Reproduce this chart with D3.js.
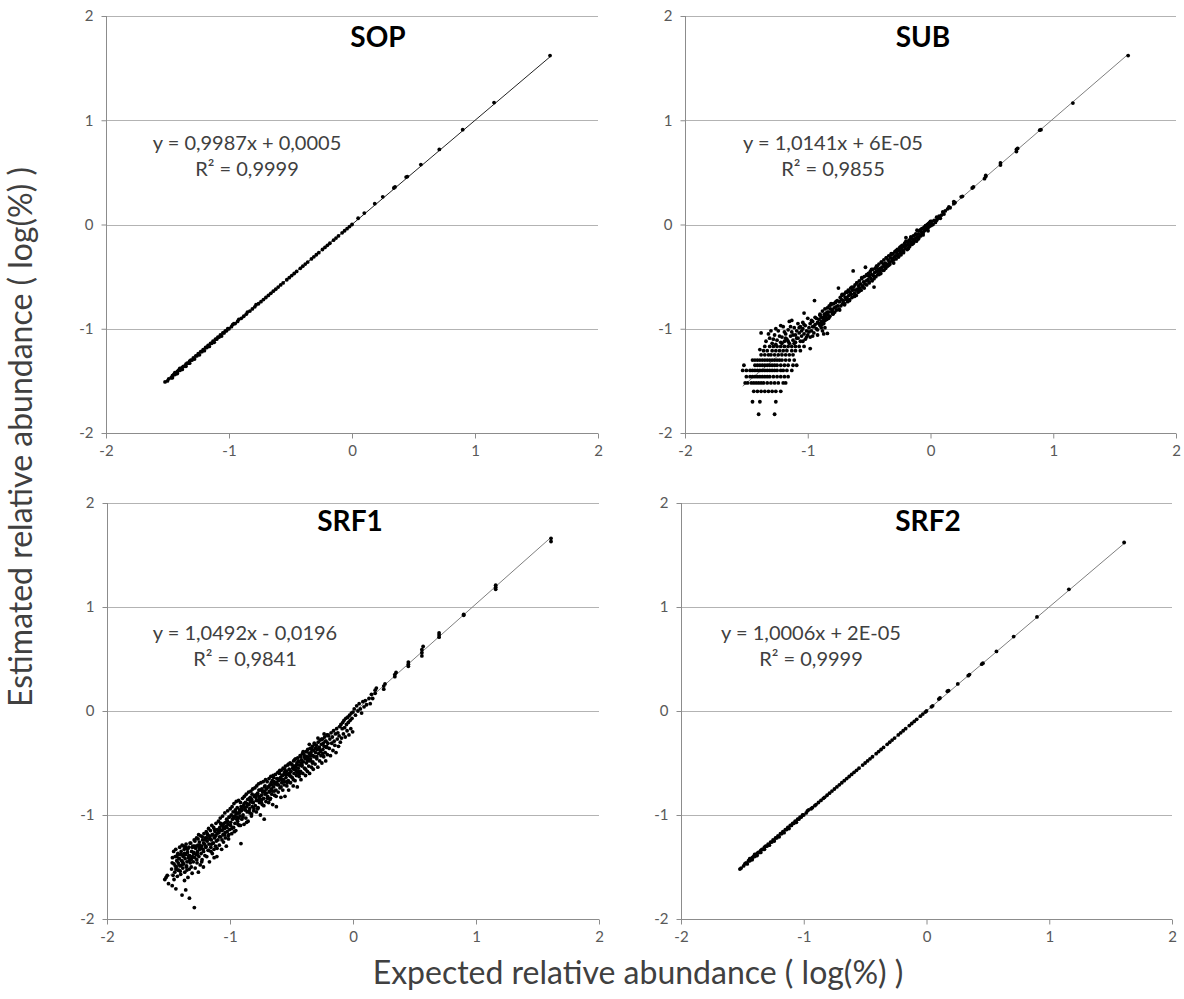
<!DOCTYPE html>
<html><head><meta charset="utf-8">
<script src="https://cdn.jsdelivr.net/npm/d3@7"></script>
<style>body{margin:0;background:#fff;}svg{display:block;}</style>
</head><body>
<svg id="c" width="1184" height="999"></svg>
<script>
// ---------------- data ----------------
const panelNames = ["SOP", "SUB", "SRF1", "SRF2"];
const eqTexts = ["y = 0,9987x + 0,0005", "y = 1,0141x + 6E-05", "y = 1,0492x - 0,0196", "y = 1,0006x + 2E-05"];
const r2Texts = ["R\u00B2 = 0,9999", "R\u00B2 = 0,9855", "R\u00B2 = 0,9841", "R\u00B2 = 0,9999"];
const slopes = [0.9987, 1.0141, 1.0492, 1.0006];
const intercepts = [0.0005, 0.00006, -0.0196, 0.00002];
const xTicks = [-2, -1, 0, 1, 2];
const yTicks = [-2, -1, 0, 1, 2];
const xTitle = "Expected relative abundance ( log(%) )";
const yTitle = "Estimated relative abundance ( log(%) )";

const sopPts = [[-1.52,-1.51],[-1.50,-1.50],[-1.49,-1.48],[-1.47,-1.47],[-1.46,-1.45],[-1.46,-1.47],[-1.45,-1.44],[-1.44,-1.44],[-1.44,-1.42],[-1.43,-1.43],[-1.42,-1.41],[-1.42,-1.43],[-1.41,-1.40],[-1.40,-1.40],[-1.40,-1.38],[-1.39,-1.39],[-1.38,-1.37],[-1.38,-1.39],[-1.37,-1.36],[-1.36,-1.36],[-1.35,-1.34],[-1.35,-1.36],[-1.34,-1.33],[-1.33,-1.33],[-1.32,-1.31],[-1.32,-1.33],[-1.31,-1.30],[-1.30,-1.30],[-1.29,-1.28],[-1.28,-1.29],[-1.27,-1.26],[-1.26,-1.26],[-1.25,-1.24],[-1.24,-1.25],[-1.23,-1.22],[-1.22,-1.22],[-1.21,-1.20],[-1.20,-1.21],[-1.19,-1.18],[-1.18,-1.18],[-1.17,-1.16],[-1.16,-1.17],[-1.15,-1.14],[-1.14,-1.14],[-1.13,-1.12],[-1.12,-1.13],[-1.11,-1.10],[-1.10,-1.10],[-1.09,-1.08],[-1.08,-1.08],[-1.07,-1.06],[-1.06,-1.07],[-1.05,-1.04],[-1.04,-1.04],[-1.03,-1.02],[-1.02,-1.02],[-1.01,-1.00],[-1.00,-1.00],[-0.98,-0.98],[-0.97,-0.96],[-0.96,-0.95],[-0.95,-0.95],[-0.93,-0.93],[-0.92,-0.91],[-0.90,-0.90],[-0.88,-0.88],[-0.86,-0.86],[-0.85,-0.84],[-0.83,-0.83],[-0.81,-0.81],[-0.79,-0.79],[-0.78,-0.77],[-0.76,-0.76],[-0.74,-0.74],[-0.72,-0.72],[-0.70,-0.70],[-0.68,-0.68],[-0.66,-0.66],[-0.64,-0.64],[-0.62,-0.62],[-0.60,-0.60],[-0.58,-0.58],[-0.56,-0.56],[-0.53,-0.53],[-0.51,-0.51],[-0.49,-0.49],[-0.47,-0.47],[-0.45,-0.45],[-0.42,-0.42],[-0.40,-0.40],[-0.38,-0.38],[-0.36,-0.36],[-0.33,-0.33],[-0.31,-0.31],[-0.29,-0.29],[-0.27,-0.27],[-0.24,-0.24],[-0.22,-0.22],[-0.20,-0.20],[-0.18,-0.18],[-0.15,-0.15],[-0.13,-0.13],[-0.11,-0.11],[-0.08,-0.08],[-0.06,-0.06],[-0.04,-0.04],[-0.02,-0.02],[0.00,0.00],[0.05,0.06],[0.10,0.11],[0.185,0.20],[0.25,0.265],[0.34,0.35],[0.35,0.36],[0.44,0.455],[0.45,0.46],[0.56,0.575],[0.71,0.72],[0.90,0.91],[1.155,1.17],[1.61,1.62]];

const subPts = [
[-1.40,-1.82],[-1.27,-1.82],
[-1.45,-1.70],[-1.39,-1.70],[-1.26,-1.70],
[-1.44,-1.60],[-1.41,-1.60],[-1.38,-1.60],[-1.35,-1.60],[-1.32,-1.60],[-1.29,-1.60],[-1.26,-1.60],[-1.22,-1.60],
[-1.51,-1.52],[-1.49,-1.52],[-1.46,-1.52],[-1.44,-1.52],[-1.42,-1.52],[-1.40,-1.52],[-1.38,-1.52],[-1.36,-1.52],[-1.33,-1.52],[-1.30,-1.52],[-1.27,-1.52],[-1.24,-1.52],[-1.20,-1.52],[-1.18,-1.52],
[-1.50,-1.46],[-1.47,-1.46],[-1.45,-1.46],[-1.43,-1.46],[-1.41,-1.46],[-1.39,-1.46],[-1.37,-1.46],[-1.35,-1.46],[-1.33,-1.46],[-1.31,-1.46],[-1.28,-1.46],[-1.25,-1.46],[-1.22,-1.46],[-1.19,-1.46],[-1.16,-1.46],
[-1.53,-1.40],[-1.50,-1.40],[-1.47,-1.40],[-1.45,-1.40],[-1.43,-1.40],[-1.41,-1.40],[-1.39,-1.40],[-1.37,-1.40],[-1.35,-1.40],[-1.33,-1.40],[-1.31,-1.40],[-1.29,-1.40],[-1.27,-1.40],[-1.25,-1.40],[-1.22,-1.40],[-1.20,-1.40],[-1.17,-1.40],[-1.13,-1.40],
[-1.52,-1.35],[-1.43,-1.35],[-1.41,-1.35],[-1.39,-1.35],[-1.37,-1.35],[-1.35,-1.35],[-1.33,-1.35],[-1.31,-1.35],[-1.29,-1.35],[-1.27,-1.35],[-1.25,-1.35],[-1.22,-1.35],[-1.19,-1.35],[-1.16,-1.35],[-1.12,-1.35],[-1.09,-1.35],
[-1.45,-1.30],[-1.43,-1.30],[-1.41,-1.30],[-1.39,-1.30],[-1.37,-1.30],[-1.35,-1.30],[-1.33,-1.30],[-1.31,-1.30],[-1.29,-1.30],[-1.27,-1.30],[-1.25,-1.30],[-1.23,-1.30],[-1.21,-1.30],[-1.18,-1.30],[-1.15,-1.30],[-1.11,-1.30],
[-1.38,-1.25],[-1.35,-1.25],[-1.32,-1.25],[-1.30,-1.25],[-1.27,-1.25],[-1.24,-1.25],[-1.21,-1.25],[-1.18,-1.25],[-1.15,-1.25],[-1.12,-1.25],
[-1.39,-1.20],[-1.36,-1.21],[-1.33,-1.21],[-1.29,-1.21],[-1.26,-1.21],[-1.23,-1.21],[-1.20,-1.21],[-1.17,-1.21],[-1.13,-1.21],[-1.10,-1.21],[-1.06,-1.21],
[-1.35,-1.17],[-1.31,-1.17],[-1.28,-1.17],[-1.25,-1.17],[-1.22,-1.17],[-1.19,-1.17],[-1.16,-1.17],[-1.13,-1.17],[-1.10,-1.17],[-1.07,-1.17],[-1.03,-1.17],[-0.98,-1.19],
[-1.38,-1.04],[-1.34,-1.12],[-1.31,-1.09],[-1.29,-1.14],[-1.27,-1.06],[-1.26,-1.00],[-1.25,-1.11],[-1.24,-1.02],[-1.22,-1.13],[-1.21,-1.08],[-1.20,-0.98],[-1.19,-1.12],[-1.18,-1.05],[-1.17,-1.10],[-1.16,-1.01],[-1.15,-0.93],[-1.15,-1.14],[-1.14,-1.07],[-1.13,-0.92],[-1.13,-1.03],[-1.12,-1.11],[-1.11,-0.99],[-1.10,-1.06],[-1.10,-1.13],[-1.09,-1.02],[-1.08,-0.95],[-1.08,-1.09],[-1.07,-1.04],[-1.06,-0.98],[-1.06,-1.12],[-1.05,-1.07],[-1.04,-1.00],[-1.04,-0.94],[-1.03,-0.85],[-1.03,-1.05],[-1.02,-1.10],[-1.02,-0.97],[-1.01,-1.02],[-1.00,-0.90],[-1.00,-1.06],[-0.99,-0.99],[-0.98,-0.95],[-0.98,-1.08],[-0.97,-1.02],[-0.96,-0.93],[-0.96,-0.98],[-0.95,-1.04],[-0.945,-0.73],[-0.94,-0.96],[-0.94,-0.89],[-0.93,-1.00],[-0.92,-0.94],[-0.92,-1.06],[-0.91,-0.91],[-0.90,-0.97],[-0.90,-0.86],[-0.89,-0.93],[-0.88,-1.02],[-0.88,-0.89],[-0.87,-0.95],[-0.86,-0.87],[-0.86,-0.99],[-0.85,-0.91],[-0.84,-1.045],[-0.84,-0.84],
[-1.28,-1.10],[-1.26,-1.15],[-1.23,-1.07],[-1.21,-1.14],[-1.19,-1.03],[-1.18,-1.09],[-1.16,-1.12],[-1.14,-0.98],[-1.12,-1.06],[-1.11,-1.14],[-1.09,-1.09],[-1.07,-0.99],[-1.05,-1.02],[-1.04,-1.12],[-1.03,-0.96],[-1.01,-1.08],[-0.99,-1.03],[-0.97,-0.92],[-0.96,-1.07],[-0.95,-0.98],[-0.93,-0.90],[-0.92,-1.01],[-0.91,-0.95],[-0.89,-0.99],[-0.87,-1.05],[-0.86,-0.92],[-1.32,-1.05],[-1.30,-1.02],[-1.22,-0.97],
[-0.90,-0.87],[-0.895,-0.95],[-0.89,-0.89],[-0.885,-0.96],[-0.88,-0.83],[-0.875,-0.90],[-0.87,-0.93],[-0.865,-0.86],[-0.86,-0.81],[-0.855,-0.89],[-0.85,-0.85],[-0.845,-0.91],[-0.84,-0.80],[-0.835,-0.87],[-0.83,-0.84],[-0.825,-0.78],[-0.82,-0.88],[-0.815,-0.81],[-0.81,-0.77],[-0.805,-0.84],[-0.80,-0.82],[-0.795,-0.86],[-0.79,-0.76],[-0.785,-0.80],[-0.78,-0.84],[-0.775,-0.75],[-0.77,-0.79],[-0.765,-0.82],[-0.76,-0.73],[-0.755,-0.78],[-0.75,-0.61],[-0.745,-0.81],[-0.74,-0.74],[-0.735,-0.70],[-0.73,-0.78],[-0.725,-0.72],[-0.72,-0.68],[-0.715,-0.76],[-0.71,-0.73],[-0.705,-0.67],[-0.70,-0.77],[-0.695,-0.70],[-0.69,-0.65],[-0.685,-0.72],[-0.68,-0.70],[-0.675,-0.74],[-0.67,-0.63],[-0.665,-0.68],[-0.66,-0.72],[-0.655,-0.65],[-0.65,-0.61],[-0.645,-0.67],[-0.64,-0.70],[-0.635,-0.63],[-0.63,-0.445],[-0.625,-0.60],[-0.62,-0.66],[-0.615,-0.58],[-0.61,-0.63],[-0.605,-0.68],[-0.60,-0.56],[-0.595,-0.62],[-0.59,-0.65],[-0.585,-0.59],[-0.58,-0.54],[-0.575,-0.61],[-0.57,-0.57],[-0.565,-0.63],[-0.56,-0.52],[-0.555,-0.59],[-0.55,-0.60],[-0.545,-0.55],[-0.54,-0.50],[-0.535,-0.57],[-0.53,-0.41],[-0.525,-0.54],[-0.52,-0.58],[-0.515,-0.49],[-0.51,-0.53],[-0.505,-0.47],[-0.50,-0.55],[-0.495,-0.50],[-0.49,-0.45],[-0.485,-0.52],[-0.48,-0.48],[-0.475,-0.54],[-0.47,-0.43],[-0.465,-0.49],[-0.46,-0.60],[-0.455,-0.46],[-0.45,-0.42],[-0.445,-0.50],[-0.44,-0.45],[-0.435,-0.40],[-0.43,-0.48],[-0.425,-0.43],[-0.42,-0.38],[-0.415,-0.45],[-0.41,-0.42],[-0.405,-0.47],[-0.40,-0.36],[-0.395,-0.41],[-0.39,-0.44],[-0.385,-0.38],[-0.38,-0.34],[-0.375,-0.40],[-0.37,-0.37],[-0.365,-0.42],[-0.36,-0.32],[-0.355,-0.38],[-0.35,-0.40],[-0.345,-0.34],[-0.34,-0.30],[-0.335,-0.36],[-0.33,-0.38],[-0.325,-0.32],[-0.32,-0.29],[-0.315,-0.35],[-0.31,-0.33],[-0.305,-0.28],[-0.30,-0.37],[-0.295,-0.31],[-0.29,-0.26],[-0.285,-0.30],[-0.28,-0.33],[-0.275,-0.27],[-0.27,-0.24],[-0.265,-0.29],[-0.26,-0.31],[-0.255,-0.25],[-0.25,-0.22],[-0.245,-0.27],[-0.24,-0.29],[-0.235,-0.23],[-0.23,-0.20],[-0.225,-0.25],[-0.22,-0.26],[-0.215,-0.21],[-0.21,-0.18],[-0.205,-0.23],[-0.20,-0.125],[-0.195,-0.20],[-0.19,-0.24],[-0.185,-0.17],[-0.18,-0.19],[-0.175,-0.15],[-0.17,-0.21],[-0.165,-0.16],[-0.16,-0.13],[-0.155,-0.18],[-0.15,-0.19],[-0.145,-0.14],[-0.14,-0.11],[-0.135,-0.16],[-0.13,-0.15],[-0.125,-0.10],[-0.12,-0.13],[-0.115,-0.16],[-0.11,-0.055],[-0.105,-0.12],[-0.10,-0.09],[-0.095,-0.13],[-0.09,-0.06],[-0.085,-0.10],[-0.08,-0.11],[-0.075,-0.07],[-0.07,-0.04],[-0.065,-0.09],[-0.06,-0.08],[-0.055,-0.03],[-0.05,-0.06],[-0.045,-0.02],[-0.04,-0.05],[-0.035,-0.01],[-0.03,-0.04],[-0.025,0.00],[-0.02,-0.03],[-0.015,0.01],[-0.01,-0.02],[-0.005,0.02],[0.00,0.01],[0.005,-0.01],
[-0.83,-0.90],[-0.81,-0.76],[-0.79,-0.85],[-0.77,-0.74],[-0.74,-0.82],[-0.72,-0.67],[-0.70,-0.76],[-0.68,-0.65],[-0.66,-0.73],[-0.64,-0.60],[-0.62,-0.69],[-0.60,-0.56],[-0.58,-0.64],[-0.56,-0.51],[-0.54,-0.61],[-0.52,-0.48],[-0.50,-0.56],[-0.48,-0.43],[-0.46,-0.52],[-0.44,-0.40],[-0.42,-0.48],[-0.40,-0.36],[-0.38,-0.44],[-0.36,-0.32],[-0.34,-0.39],[-0.32,-0.28],[-0.30,-0.34],[-0.28,-0.25],[-0.26,-0.31],[-0.24,-0.21],[-0.22,-0.27],[-0.20,-0.16],[-0.18,-0.23],[-0.16,-0.12],[-0.14,-0.18],[-0.12,-0.09],[-0.10,-0.14],[-0.08,-0.05],[-0.06,-0.10],[-0.04,-0.01],[-0.02,-0.06],[0.00,0.03],
[0.01,0.03],[0.02,0.00],[0.03,0.04],[0.04,0.02],[0.05,0.07],[0.05,0.04],[0.06,0.06],[0.07,0.08],[0.08,0.06],[0.09,0.09],[0.10,0.12],[0.11,0.10],[0.12,0.13],[0.14,0.15],[0.15,0.17],[0.16,0.16],[0.19,0.20],[0.19,0.22],[0.20,0.21],[0.25,0.265],[0.26,0.27],[0.34,0.35],[0.35,0.36],[0.44,0.44],[0.45,0.46],[0.45,0.47],[0.57,0.57],[0.57,0.59],[0.70,0.70],[0.70,0.72],[0.71,0.73],[0.89,0.905],[0.90,0.91],[1.16,1.165],[1.61,1.62]];

const srf1Pts = [
[-1.53,-1.62],[-1.52,-1.60],[-1.50,-1.66],[-1.51,-1.58],[-1.47,-1.68],[-1.44,-1.71],[-1.39,-1.77],[-1.36,-1.72],[-1.37,-1.63],[-1.33,-1.80],[-1.29,-1.89],
[-1.475,-1.52],[-1.468,-1.41],[-1.463,-1.58],[-1.458,-1.35],[-1.455,-1.47],[-1.449,-1.55],[-1.446,-1.40],[-1.441,-1.33],[-1.437,-1.50],[-1.433,-1.44],[-1.428,-1.59],[-1.424,-1.37],[-1.421,-1.46],[-1.416,-1.53],[-1.412,-1.42],[-1.409,-1.31],[-1.404,-1.49],[-1.401,-1.57],[-1.455,-1.62],[-1.44,-1.52],[-1.43,-1.39],[-1.415,-1.48],[-1.405,-1.38],[-1.47,-1.46],
[-1.397,-1.35],[-1.393,-1.44],[-1.389,-1.29],[-1.384,-1.51],[-1.381,-1.40],[-1.376,-1.47],[-1.372,-1.33],[-1.368,-1.55],[-1.365,-1.42],[-1.361,-1.38],[-1.357,-1.28],[-1.353,-1.49],[-1.349,-1.45],[-1.346,-1.36],[-1.342,-1.60],[-1.338,-1.41],[-1.334,-1.31],[-1.331,-1.52],[-1.327,-1.39],[-1.323,-1.46],[-1.319,-1.27],[-1.316,-1.43],[-1.312,-1.35],[-1.308,-1.56],[-1.305,-1.40],[-1.302,-1.30],[-1.39,-1.48],[-1.37,-1.37],[-1.35,-1.53],[-1.33,-1.44],[-1.315,-1.50],[-1.36,-1.31],
[-1.298,-1.45],[-1.294,-1.36],[-1.291,-1.24],[-1.287,-1.41],[-1.283,-1.51],[-1.279,-1.32],[-1.276,-1.38],[-1.272,-1.22],[-1.268,-1.46],[-1.264,-1.35],[-1.261,-1.29],[-1.257,-1.55],[-1.253,-1.40],[-1.249,-1.26],[-1.246,-1.33],[-1.242,-1.48],[-1.238,-1.20],[-1.235,-1.37],[-1.231,-1.30],[-1.227,-1.43],[-1.223,-1.24],[-1.219,-1.33],[-1.216,-1.50],[-1.212,-1.18],[-1.208,-1.28],[-1.204,-1.39],[-1.201,-1.22],[-1.29,-1.30],[-1.27,-1.43],[-1.25,-1.31],[-1.23,-1.45],[-1.215,-1.27],[-1.26,-1.23],
[-1.197,-1.31],[-1.193,-1.16],[-1.189,-1.40],[-1.186,-1.25],[-1.182,-1.19],[-1.178,-1.34],[-1.174,-1.13],[-1.171,-1.28],[-1.167,-1.45],[-1.163,-1.21],[-1.159,-1.15],[-1.156,-1.31],[-1.152,-1.24],[-1.148,-1.10],[-1.144,-1.37],[-1.141,-1.19],[-1.137,-1.27],[-1.133,-1.12],[-1.129,-1.41],[-1.126,-1.22],[-1.122,-1.16],[-1.118,-1.30],[-1.114,-1.08],[-1.111,-1.25],[-1.107,-1.40],[-1.103,-1.14],[-1.19,-1.22],[-1.17,-1.20],[-1.15,-1.28],[-1.13,-1.33],[-1.12,-1.20],[-1.105,-1.18],
[-1.098,-1.24],[-1.094,-1.06],[-1.090,-1.17],[-1.087,-1.29],[-1.083,-1.12],[-1.079,-1.03],[-1.075,-1.21],[-1.072,-1.09],[-1.068,-1.33],[-1.064,-1.15],[-1.060,-1.01],[-1.057,-1.19],[-1.053,-1.26],[-1.049,-1.08],[-1.045,-1.13],[-1.042,-0.98],[-1.038,-1.22],[-1.034,-1.11],[-1.030,-1.30],[-1.027,-1.04],[-1.023,-1.16],[-1.019,-0.96],[-1.015,-1.09],[-1.012,-1.23],[-1.008,-1.02],[-1.004,-1.14],[-1.08,-1.15],[-1.06,-1.10],[-1.04,-1.17],[-1.02,-1.06],[-1.01,-1.19],
[-0.998,-0.94],[-0.994,-1.07],[-0.990,-1.00],[-0.986,-1.18],[-0.983,-0.92],[-0.979,-1.04],[-0.975,-0.97],[-0.971,-1.12],[-0.968,-0.89],[-0.964,-1.01],[-0.960,-1.08],[-0.956,-0.95],[-0.953,-1.15],[-0.949,-0.87],[-0.945,-1.02],[-0.941,-0.93],[-0.938,-1.06],[-0.934,-0.98],[-0.930,-0.86],[-0.926,-1.10],[-0.923,-0.95],[-0.919,-1.01],[-0.915,-0.88],[-0.911,-1.275],[-0.908,-0.96],[-0.904,-1.04],[-0.97,-1.03],[-0.95,-0.99],[-0.93,-1.03],[-0.91,-0.92],
[-0.898,-0.84],[-0.894,-1.00],[-0.890,-0.91],[-0.886,-1.09],[-0.883,-0.82],[-0.879,-0.95],[-0.875,-0.88],[-0.871,-1.03],[-0.868,-0.80],[-0.864,-0.92],[-0.860,-0.97],[-0.856,-0.85],[-0.853,-1.06],[-0.849,-0.78],[-0.845,-0.90],[-0.841,-0.84],[-0.838,-0.98],[-0.834,-0.87],[-0.830,-0.77],[-0.826,-1.01],[-0.823,-0.85],[-0.819,-0.92],[-0.815,-0.75],[-0.811,-0.88],[-0.808,-0.96],[-0.804,-0.82],[-0.88,-0.93],[-0.86,-0.89],[-0.84,-0.94],[-0.82,-0.80],
[-0.798,-0.74],[-0.794,-0.91],[-0.790,-0.83],[-0.786,-0.97],[-0.783,-0.72],[-0.779,-0.86],[-0.775,-0.79],[-0.771,-0.93],[-0.768,-0.70],[-0.764,-0.82],[-0.760,-0.88],[-0.756,-0.76],[-0.753,-1.00],[-0.749,-0.69],[-0.745,-0.81],[-0.741,-0.75],[-0.738,-0.90],[-0.734,-0.78],[-0.730,-0.68],[-0.726,-0.84],[-0.722,-1.04],[-0.719,-0.73],[-0.715,-0.80],[-0.711,-0.66],[-0.708,-0.87],[-0.704,-0.75],[-0.78,-0.80],[-0.76,-0.84],[-0.74,-0.85],[-0.72,-0.77],
[-0.698,-0.68],[-0.694,-0.82],[-0.690,-0.73],[-0.686,-0.88],[-0.683,-0.65],[-0.679,-0.77],[-0.675,-0.71],[-0.671,-0.84],[-0.668,-0.63],[-0.664,-0.75],[-0.660,-0.80],[-0.656,-0.67],[-0.653,-0.90],[-0.649,-0.62],[-0.645,-0.73],[-0.641,-0.68],[-0.638,-0.81],[-0.634,-0.70],[-0.630,-0.61],[-0.626,-0.76],[-0.623,-0.92],[-0.619,-0.65],[-0.615,-0.71],[-0.611,-0.59],[-0.608,-0.78],[-0.604,-0.67],[-0.68,-0.78],[-0.66,-0.71],[-0.64,-0.77],[-0.62,-0.69],
[-0.598,-0.60],[-0.594,-0.74],[-0.590,-0.64],[-0.586,-0.83],[-0.583,-0.57],[-0.579,-0.69],[-0.575,-0.62],[-0.571,-0.76],[-0.568,-0.55],[-0.564,-0.66],[-0.560,-0.71],[-0.556,-0.59],[-0.553,-0.82],[-0.549,-0.53],[-0.545,-0.64],[-0.541,-0.58],[-0.538,-0.72],[-0.534,-0.61],[-0.530,-0.52],[-0.526,-0.67],[-0.523,-0.76],[-0.519,-0.56],[-0.515,-0.62],[-0.511,-0.50],[-0.508,-0.69],[-0.504,-0.58],[-0.58,-0.66],[-0.56,-0.61],[-0.54,-0.68],[-0.52,-0.60],
[-0.498,-0.51],[-0.494,-0.64],[-0.490,-0.55],[-0.486,-0.72],[-0.483,-0.48],[-0.479,-0.60],[-0.475,-0.53],[-0.471,-0.67],[-0.468,-0.46],[-0.464,-0.57],[-0.460,-0.62],[-0.456,-0.50],[-0.453,-0.73],[-0.449,-0.45],[-0.445,-0.55],[-0.441,-0.49],[-0.438,-0.63],[-0.434,-0.52],[-0.430,-0.43],[-0.426,-0.58],[-0.423,-0.66],[-0.419,-0.47],[-0.415,-0.53],[-0.411,-0.41],[-0.408,-0.60],[-0.404,-0.49],[-0.48,-0.56],[-0.46,-0.52],[-0.44,-0.58],[-0.42,-0.50],
[-0.398,-0.42],[-0.394,-0.55],[-0.390,-0.46],[-0.386,-0.62],[-0.383,-0.39],[-0.379,-0.50],[-0.375,-0.44],[-0.371,-0.58],[-0.368,-0.37],[-0.364,-0.48],[-0.360,-0.53],[-0.356,-0.41],[-0.353,-0.60],[-0.349,-0.36],[-0.345,-0.46],[-0.341,-0.40],[-0.338,-0.54],[-0.334,-0.43],[-0.330,-0.34],[-0.326,-0.49],[-0.323,-0.56],[-0.319,-0.38],[-0.315,-0.44],[-0.311,-0.32],[-0.308,-0.51],[-0.304,-0.40],[-0.37,-0.47],[-0.35,-0.43],[-0.33,-0.50],
[-0.298,-0.33],[-0.294,-0.46],[-0.290,-0.37],[-0.286,-0.54],[-0.283,-0.30],[-0.279,-0.41],[-0.275,-0.35],[-0.271,-0.48],[-0.268,-0.28],[-0.264,-0.39],[-0.260,-0.43],[-0.256,-0.32],[-0.253,-0.50],[-0.249,-0.27],[-0.245,-0.37],[-0.241,-0.31],[-0.238,-0.44],[-0.234,-0.34],[-0.230,-0.25],[-0.226,-0.40],[-0.222,-0.48],[-0.219,-0.29],[-0.215,-0.35],[-0.211,-0.23],[-0.208,-0.42],[-0.204,-0.31],
[-0.198,-0.24],[-0.193,-0.36],[-0.188,-0.27],[-0.183,-0.43],[-0.178,-0.21],[-0.173,-0.31],[-0.168,-0.25],[-0.163,-0.38],[-0.158,-0.19],[-0.153,-0.29],[-0.148,-0.33],[-0.143,-0.22],[-0.138,-0.40],[-0.133,-0.17],[-0.128,-0.27],[-0.123,-0.21],[-0.118,-0.34],[-0.113,-0.24],[-0.108,-0.15],[-0.103,-0.30],
[-0.098,-0.13],[-0.093,-0.26],[-0.088,-0.17],[-0.083,-0.11],[-0.078,-0.22],[-0.073,-0.09],[-0.068,-0.16],[-0.063,-0.25],[-0.058,-0.07],[-0.053,-0.13],[-0.048,-0.19],[-0.043,-0.06],[-0.038,-0.11],[-0.033,-0.23],[-0.028,-0.04],[-0.023,-0.09],[-0.018,-0.17],[-0.013,-0.02],[-0.008,-0.07],[-0.003,-0.20],[0.00,-0.01],
[-1.445,-1.49],[-1.435,-1.40],[-1.425,-1.53],[-1.415,-1.42],[-1.405,-1.54],[-1.395,-1.38],[-1.385,-1.45],[-1.375,-1.30],[-1.365,-1.38],[-1.355,-1.50],[-1.345,-1.33],[-1.335,-1.39],[-1.325,-1.27],[-1.315,-1.42],[-1.305,-1.31],[-1.295,-1.37],[-1.285,-1.25],[-1.275,-1.30],[-1.265,-1.38],[-1.255,-1.19],[-1.245,-1.29],[-1.235,-1.32],[-1.225,-1.21],[-1.215,-1.35],
[-1.205,-1.24],[-1.195,-1.30],[-1.185,-1.18],[-1.175,-1.34],[-1.165,-1.23],[-1.155,-1.35],[-1.145,-1.19],[-1.135,-1.27],[-1.125,-1.14],[-1.115,-1.20],[-1.105,-1.32],[-1.095,-1.15],[-1.085,-1.21],[-1.075,-1.08],[-1.065,-1.24],[-1.055,-1.13],[-1.045,-1.19],[-1.035,-1.07],[-1.025,-1.12],[-1.015,-1.20],[-1.005,-1.02],[-0.995,-1.10],[-0.985,-1.13],[-0.975,-1.02],[-0.965,-1.16],[-0.955,-0.97],[-0.945,-1.04],[-0.935,-1.09],[-0.925,-0.98],[-0.915,-1.10],[-0.905,-0.94],[-0.895,-1.02],[-0.885,-0.89],[-0.875,-0.95],[-0.865,-1.07],[-0.855,-0.90],[-0.845,-0.96],[-0.835,-0.83],[-0.825,-0.99],[-0.815,-0.88],[-0.805,-0.94],[-0.795,-0.81],[-0.785,-0.86],[-0.775,-0.94],[-0.765,-0.76],[-0.755,-0.85],[-0.745,-0.88],[-0.735,-0.77],[-0.725,-0.91],[-0.715,-0.72],[-0.705,-0.79],[-0.695,-0.84],[-0.685,-0.73],[-0.675,-0.85],[-0.665,-0.69],[-0.655,-0.77],[-0.645,-0.64],[-0.635,-0.70],[-0.625,-0.82],[-0.615,-0.65],[-0.605,-0.71],[-0.595,-0.57],[-0.585,-0.73],[-0.575,-0.62],[-0.565,-0.68],[-0.555,-0.56],[-0.545,-0.61],[-0.535,-0.69],[-0.525,-0.51],[-0.515,-0.60],[-0.505,-0.63],[-0.495,-0.52],[-0.485,-0.66],[-0.475,-0.47],[-0.465,-0.54],[-0.455,-0.59],[-0.445,-0.48],[-0.435,-0.60],[-0.425,-0.44],[-0.415,-0.52],[-0.405,-0.39],[-0.395,-0.44],[-0.385,-0.56],[-0.375,-0.39],[-0.365,-0.45],[-0.355,-0.32],[-0.345,-0.48],[-0.335,-0.37],[-0.325,-0.43],[-0.315,-0.31],[-0.305,-0.36],[-0.295,-0.44],[-0.285,-0.26],[-0.275,-0.35],[-0.265,-0.38],[-0.255,-0.27],[-0.245,-0.41],[-0.235,-0.22],[-0.225,-0.29],[-0.215,-0.34],[-0.205,-0.23],
[0.01,0.02],[0.02,-0.04],[0.03,0.05],[0.04,0.00],[0.05,0.07],[0.06,0.02],[0.07,-0.02],[0.08,0.09],[0.09,0.04],[0.10,0.10],[0.11,0.06],[0.13,0.12],[0.14,0.07],[0.15,0.16],[0.16,0.12],
[0.18,0.17],[0.18,0.20],[0.19,0.22],[0.25,0.21],[0.25,0.24],[0.26,0.26],[0.34,0.33],[0.34,0.35],[0.35,0.37],[0.45,0.43],[0.45,0.45],[0.45,0.47],[0.56,0.53],[0.56,0.56],[0.56,0.59],[0.57,0.62],[0.70,0.71],[0.70,0.73],[0.70,0.75],[0.90,0.92],[0.90,0.93],[1.16,1.17],[1.16,1.19],[1.16,1.21],[1.61,1.63],[1.61,1.66]];

const srf2Pts = [[-1.52,-1.52],[-1.51,-1.51],[-1.49,-1.49],[-1.48,-1.47],[-1.47,-1.46],[-1.46,-1.47],[-1.45,-1.44],[-1.44,-1.44],[-1.44,-1.42],[-1.43,-1.43],[-1.42,-1.41],[-1.42,-1.43],[-1.41,-1.40],[-1.40,-1.40],[-1.40,-1.38],[-1.39,-1.39],[-1.38,-1.37],[-1.38,-1.39],[-1.37,-1.36],[-1.36,-1.36],[-1.35,-1.34],[-1.35,-1.36],[-1.34,-1.33],[-1.33,-1.33],[-1.32,-1.31],[-1.32,-1.33],[-1.31,-1.30],[-1.30,-1.30],[-1.29,-1.28],[-1.28,-1.29],[-1.27,-1.26],[-1.26,-1.26],[-1.25,-1.24],[-1.24,-1.25],[-1.23,-1.22],[-1.22,-1.22],[-1.21,-1.20],[-1.20,-1.21],[-1.19,-1.18],[-1.18,-1.18],[-1.17,-1.16],[-1.16,-1.17],[-1.15,-1.14],[-1.14,-1.14],[-1.13,-1.12],[-1.12,-1.13],[-1.11,-1.10],[-1.10,-1.10],[-1.09,-1.08],[-1.08,-1.08],[-1.07,-1.06],[-1.06,-1.07],[-1.05,-1.04],[-1.04,-1.04],[-1.03,-1.02],[-1.02,-1.02],[-1.01,-1.00],[-1.00,-1.00],[-0.98,-0.98],[-0.97,-0.96],[-0.96,-0.95],[-0.94,-0.94],[-0.93,-0.93],[-0.91,-0.91],[-0.90,-0.90],[-0.88,-0.88],[-0.86,-0.86],[-0.84,-0.84],[-0.83,-0.83],[-0.81,-0.81],[-0.79,-0.79],[-0.77,-0.77],[-0.75,-0.75],[-0.73,-0.73],[-0.71,-0.71],[-0.69,-0.69],[-0.67,-0.67],[-0.65,-0.65],[-0.63,-0.63],[-0.61,-0.61],[-0.59,-0.59],[-0.57,-0.57],[-0.55,-0.55],[-0.52,-0.52],[-0.50,-0.50],[-0.48,-0.48],[-0.46,-0.46],[-0.44,-0.44],[-0.41,-0.41],[-0.39,-0.39],[-0.37,-0.37],[-0.35,-0.35],[-0.32,-0.32],[-0.30,-0.30],[-0.28,-0.28],[-0.26,-0.26],[-0.23,-0.23],[-0.21,-0.21],[-0.19,-0.19],[-0.17,-0.17],[-0.14,-0.14],[-0.12,-0.12],[-0.10,-0.10],[-0.08,-0.08],[-0.05,-0.05],[-0.03,-0.03],[-0.01,-0.01],[0.00,0.00],[0.04,0.04],[0.05,0.05],[0.10,0.115],[0.11,0.125],[0.17,0.19],[0.18,0.195],[0.255,0.26],[0.34,0.34],[0.35,0.35],[0.45,0.45],[0.46,0.46],[0.57,0.573],[0.71,0.716],[0.90,0.905],[1.16,1.17],[1.61,1.62]];

const panelPts = [sopPts, subPts, srf1Pts, srf2Pts];

// ---------------- layout ----------------
const boxes = [
  {l:106, r:598, t:16, b:433, tx:378, ty:40, ex:247, ey:145, lineColor:"#222"},
  {l:685, r:1176, t:16, b:433, tx:923, ty:40, ex:833, ey:145, lineColor:"#7f7f7f"},
  {l:107, r:599, t:503, b:919, tx:350, ty:524, ex:245, ey:635, lineColor:"#7f7f7f"},
  {l:681, r:1172, t:503, b:919, tx:928, ty:524, ex:811, ey:635, lineColor:"#7f7f7f"}
];
const FONT = "Lato, 'Open Sans', 'DejaVu Sans', sans-serif";
const svg = d3.select("#c");
svg.append("rect").attr("width",1184).attr("height",999).attr("fill","#fff");

panelPts.forEach((pts, i) => {
  const b = boxes[i];
  const x = d3.scaleLinear().domain([-2, 2]).range([b.l, b.r]);
  const y = d3.scaleLinear().domain([-2, 2]).range([b.b, b.t]);
  const g = svg.append("g");

  // gridlines
  g.append("g").selectAll("line").data(yTicks.filter(v => v > -2)).join("line")
    .attr("x1", b.l).attr("x2", b.r)
    .attr("y1", d => Math.round(y(d)) + 0.5).attr("y2", d => Math.round(y(d)) + 0.5)
    .attr("stroke", "#b3b3b3").attr("stroke-width", 1);

  // axes
  const xa = g.append("g").attr("transform", `translate(0,${Math.round(b.b)+0.5})`)
    .call(d3.axisBottom(x).tickValues(xTicks).tickSize(5).tickPadding(7).tickFormat(d => String(d)));
  const ya = g.append("g").attr("transform", `translate(${Math.round(b.l)+0.5},0)`)
    .call(d3.axisLeft(y).tickValues(yTicks).tickSize(5).tickPadding(8).tickFormat(d => String(d)));
  [xa, ya].forEach(a => {
    a.select(".domain").attr("stroke", "#8c8c8c");
    a.selectAll(".tick line").attr("stroke", "#8c8c8c");
    a.selectAll(".tick text").attr("fill", "#595959").style("font-family", FONT).style("font-size", "15px");
  });
  xa.select(".domain").attr("d", `M${b.l},0H${b.r}`);
  ya.select(".domain").attr("d", `M0,${b.b}V${b.t}`);

  // trendline
  const xmin = d3.min(pts, d => d[0]), xmax = d3.max(pts, d => d[0]);
  g.append("line")
    .attr("x1", x(xmin)).attr("y1", y(slopes[i]*xmin + intercepts[i]))
    .attr("x2", x(xmax)).attr("y2", y(slopes[i]*xmax + intercepts[i]))
    .attr("stroke", b.lineColor).attr("stroke-width", 1);

  // points
  g.append("g").selectAll("circle").data(pts).join("circle")
    .attr("cx", d => x(d[0])).attr("cy", d => y(d[1])).attr("r", 1.9).attr("fill", "#000");

  // title
  g.append("text").attr("x", b.tx).attr("y", b.ty).attr("text-anchor","middle").attr("dominant-baseline","middle")
    .style("font-family", FONT).style("font-weight","bold").style("font-size","28px").attr("fill","#000")
    .text(panelNames[i]);

  // equation
  g.append("text").attr("x", b.ex).attr("y", b.ey).attr("text-anchor","middle").attr("dominant-baseline","middle")
    .style("font-family", FONT).style("font-size","20px").attr("fill","#404040").text(eqTexts[i]);
  g.append("text").attr("x", b.ex).attr("y", b.ey + 26).attr("text-anchor","middle").attr("dominant-baseline","middle")
    .style("font-family", FONT).style("font-size","20px").attr("fill","#404040").text(r2Texts[i]);
});

// axis titles
svg.append("text").attr("x", 638).attr("y", 976).attr("text-anchor","middle").attr("dominant-baseline","middle")
  .style("font-family", FONT).style("font-size","32px").attr("fill","#404040").text(xTitle);
svg.append("text").attr("transform","translate(24,437) rotate(-90)").attr("text-anchor","middle").attr("dominant-baseline","middle")
  .style("font-family", FONT).style("font-size","32px").attr("fill","#404040").text(yTitle);
</script>
</body></html>
